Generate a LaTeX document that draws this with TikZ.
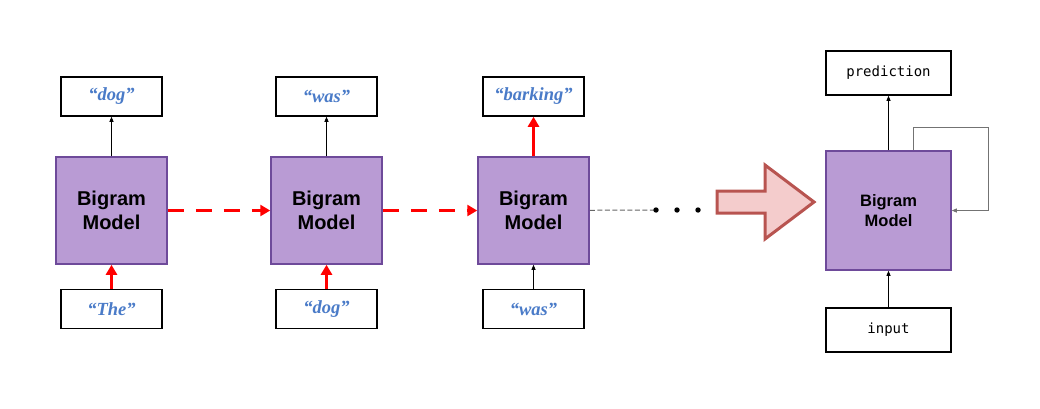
\documentclass[tikz,border=0pt]{standalone}
\usepackage{fontspec}
\setmainfont{Liberation Serif}
\setsansfont{Liberation Sans}
\setmonofont{DejaVu Sans Mono}
\usetikzlibrary{arrows.meta}
\definecolor{boxfill}{HTML}{B99BD4}
\definecolor{boxline}{HTML}{6E4A9A}
\definecolor{wordblue}{HTML}{4A7BC8}
\definecolor{bigfill}{HTML}{F4CCCC}
\definecolor{bigline}{HTML}{B85450}

\begin{document}
\begin{tikzpicture}[
    x = 1pt, y = -1pt,
    model/.style = {draw = boxline, line width = 1.5pt, fill = boxfill,
        minimum width = 111pt, minimum height = 107pt, align = center,
        font = \sffamily\bfseries\fontsize{20}{24}\selectfont},
    word/.style = {draw, line width = 1.5pt, fill = white,
        minimum width = 101pt, minimum height = 39pt, text = wordblue,
        font = \bfseries\itshape\fontsize{18.5}{20}\selectfont},
    thin/.style = {line width = 0.8pt, -{Triangle[length = 5pt, width = 4pt]}},
    hot/.style = {red, line width = 3pt, -{Triangle[length = 10pt, width = 11pt]}},
    hotdash/.style = {hot, dash pattern = on 16pt off 12pt},
    code/.style = {draw, line width = 1.5pt, minimum width = 125pt,
        minimum height = 44pt, font = \ttfamily\fontsize{14}{16}\selectfont}]

\useasboundingbox (0,0) rectangle (1040,408);

% unrolled chain
\node[model] (m1) at (111.5,210.5) {Bigram\\Model};
\node[model] (m2) at (326.5,210.5) {Bigram\\Model};
\node[model] (m3) at (533.5,210.5) {Bigram\\Model};
\node[word] (o1) at (111.5,96.5) {“dog”};
\node[word] (o2) at (326.5,96.5) {“was”};
\node[word] (o3) at (533.5,96.5) {“barking”};
\node[word] (i1) at (111.5,309) {“The”};
\node[word] (i2) at (326.5,309) {“dog”};
\node[word] (i3) at (533.5,309) {“was”};

\draw[hot] (i1) -- (m1);
\draw[hot] (i2) -- (m2);
\draw[thin] (i3) -- (m3);
\draw[thin] (m1) -- (o1);
\draw[thin] (m2) -- (o2);
\draw[hot] (m3) -- (o3);
\draw[hotdash] (m1) -- (m2);
\draw[hotdash] (m2) -- (m3);

\coordinate (d1) at (656,210);
\draw[black!60, line width = 1pt, dash pattern = on 5pt off 2.5pt] (m3) -- (d1);
\foreach \dx in {0,21,42}
    \fill ([xshift = \dx pt]d1) circle (2.7pt);

% big arrow
\draw[bigline, fill = bigfill, line width = 3pt, line join = miter]
    (717,191) -- (765,191) -- (765,165) -- (814,202) -- (765,239)
    -- (765,213) -- (717,213) -- cycle;

% folded model
\node[model, minimum width = 125pt, minimum height = 119pt,
    font = \sffamily\bfseries\fontsize{16.5}{20}\selectfont]
    (mR) at (888.5,210.5) {Bigram\\Model};
\node[code] (pred) at (888.5,73) {prediction};
\node[code] (inp) at (888.5,330) {input};
\draw[thin] (inp) -- (mR);
\draw[thin] (mR) -- (pred);
\draw[thin, black!55] ([xshift = 24.5pt]mR.north) -- ++(0,-23) -- ++(75,0)
    |- (mR.east);
\end{tikzpicture}
\end{document}
